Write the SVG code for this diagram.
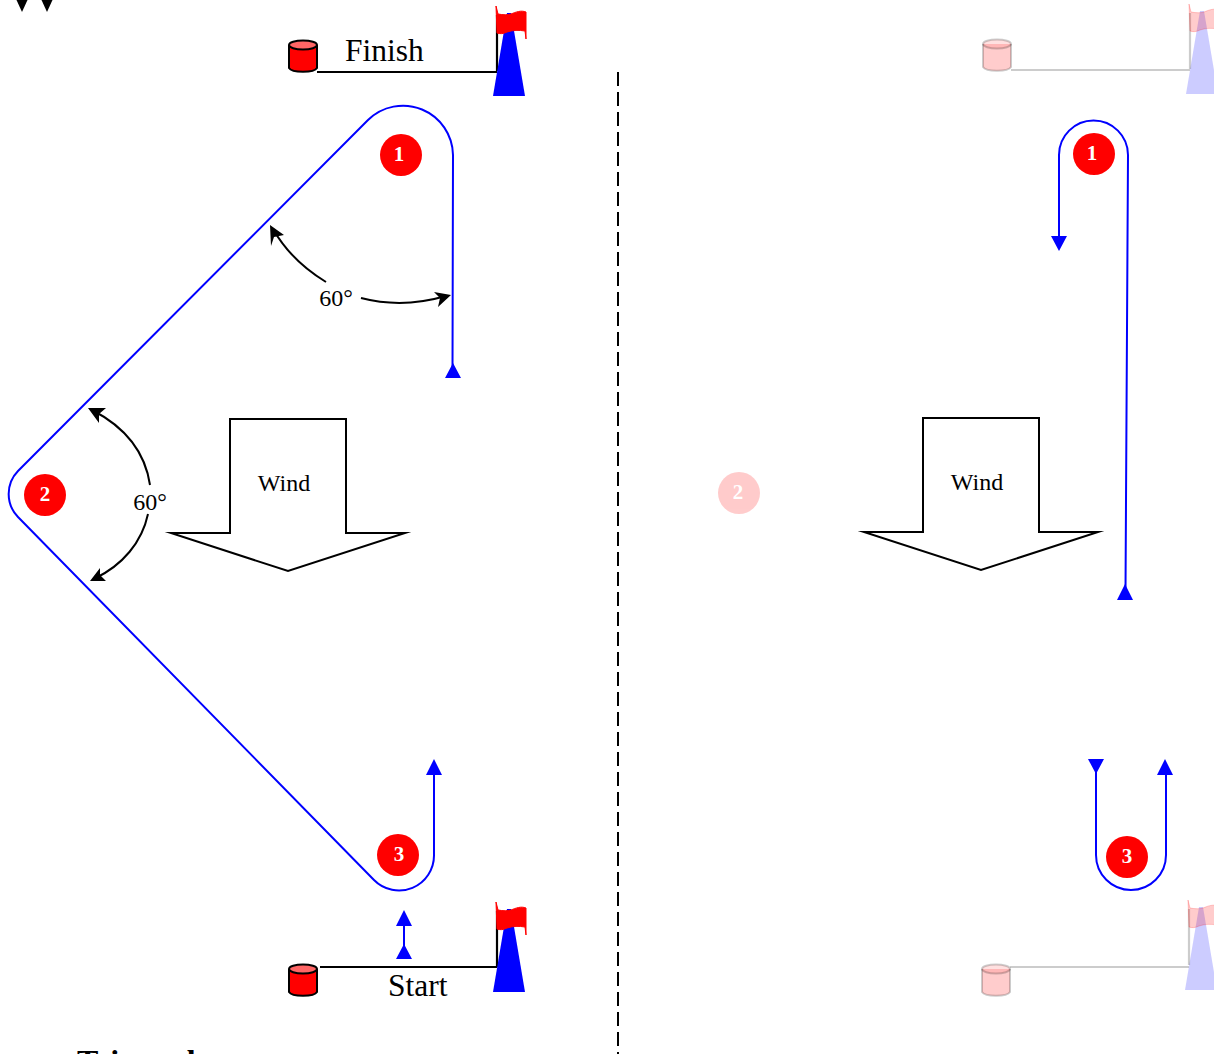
<svg xmlns="http://www.w3.org/2000/svg" width="1214" height="1054" viewBox="0 0 1214 1054">
<style>
text{font-family:"Liberation Serif","Times New Roman",serif;fill:#000}
.course{fill:none;stroke:#00f;stroke-width:2}
.head{fill:#00f;stroke:none}
.ang{fill:none;stroke:#000;stroke-width:2}
.angh{fill:#000;stroke:none}
.wind{fill:#fff;stroke:#000;stroke-width:2;stroke-miterlimit:20}
.mark{fill:#f00}
.num{fill:#fff;font-weight:bold;font-size:21px;text-anchor:middle}
.line{fill:none;stroke:#000;stroke-width:2.200}
.buoy{fill:#f00;stroke:#000;stroke-width:2}
.buoytop{fill:#ff6666;stroke:#000;stroke-width:2}
.boat{fill:#00f}
.flag{fill:#f00;stroke:#f00;stroke-width:1}
.lbl{font-size:31.500px}
.w{font-size:24px;text-anchor:middle}
.a60{font-size:24px;text-anchor:middle}
.f{fill-opacity:.2;stroke-opacity:.2}
</style>
<defs>
<path id="pole" class="line" d="M0 15V71"/>
<path id="boat" class="boat" d="M10 13L14 13L28 96L-4 96Z"/>
<path id="flag" class="flag" d="M-1 6L1 14C6 15 11 15 14 14C19 12 24 10 29 12L29 39L28 31C22 30 16 30 10 32C6 34 3 34 0 33Z"/>
<g id="buoyshape">
<path class="buoy" d="M0 5V28C3 33 25 33 28 28V5"/>
<ellipse class="buoytop" cx="14" cy="5" rx="14" ry="4.500"/>
</g>
</defs>

<g id="top-arrowheads">
<path d="M16.500 0H27.500L22 12Z" fill="#000"/>
<path d="M41.500 0H52.500L47 12Z" fill="#000"/>
</g>

<g id="connectors">
<path class="course" d="M452.500 368L453 155A50 50 0 0 0 368 120L18 471A33 33 0 0 0 18 517L374 880A35 35 0 0 0 434 855V772"/>
<path class="head" d="M445 378H461L453 363Z"/>
<path class="head" d="M426 775H442L434 759Z"/>
<path class="course" d="M404 925V946"/>
<path class="head" d="M396 926H412L404 910Z"/>
<path class="head" d="M396 959H412L404 944Z"/>
<path class="ang" d="M326 282C303 268 285 250 273 229"/>
<path class="angh" d="M270 225L284 235L274 237L271 246Z"/>
<path class="ang" d="M361 298C388 305 415 305 446 296"/>
<path class="angh" d="M451 295L438 307L440 298L434 292Z"/>
<path class="ang" d="M150 485C145 451 125 427 92 410"/>
<path class="angh" d="M88 408L106 408L99 414L99 423Z"/>
<path class="ang" d="M148 514C142 542 123 565 94 579"/>
<path class="angh" d="M90 581L100 568L100 575L106 581Z"/>
<path d="M618 72V1054" fill="none" stroke="#000" stroke-width="2" stroke-dasharray="14 6"/>
<path class="course" d="M1059 238V155A34.500 34.500 0 0 1 1128 155L1125.500 590"/>
<path class="head" d="M1051 236H1067L1059 251Z"/>
<path class="head" d="M1117 600H1133L1125 584Z"/>
<path class="course" d="M1096 770V855A35 35 0 0 0 1166 855V772"/>
<path class="head" d="M1088 759H1104L1096 774Z"/>
<path class="head" d="M1157 775H1173L1165 759Z"/>
</g>

<g id="wind-left">
<path class="wind" d="M230 419H346V533H405L288 571L171 533H230Z"/>
<text class="w" x="284" y="491">Wind</text>
</g>
<g id="wind-right">
<path class="wind" d="M923 418H1039V532H1098L981 570L864 532H923Z"/>
<text class="w" x="977" y="490">Wind</text>
</g>

<g id="angle-label-1"><text class="a60" x="336" y="306">60°</text></g>
<g id="angle-label-2"><text class="a60" x="150" y="510">60°</text></g>

<g id="mark-1"><circle class="mark" cx="401" cy="155" r="21"/><text class="num" x="399" y="161">1</text></g>
<g id="mark-2"><circle class="mark" cx="45" cy="495" r="21"/><text class="num" x="45" y="501">2</text></g>
<g id="mark-3"><circle class="mark" cx="398" cy="855" r="21"/><text class="num" x="399" y="861">3</text></g>
<g id="mark-1b"><circle class="mark" cx="1094" cy="154" r="21"/><text class="num" x="1092" y="160">1</text></g>
<g id="mark-2b" opacity="0.2"><circle class="mark" cx="739" cy="493" r="21"/><text class="num" x="738" y="499">2</text></g>
<g id="mark-3b"><circle class="mark" cx="1127" cy="857" r="21"/><text class="num" x="1127" y="863">3</text></g>

<g id="finish-left">
<path class="line" d="M317 72H497"/>
<use href="#buoyshape" x="289" y="40"/>
<use href="#pole" x="497" y="0"/>
<use href="#boat" x="497" y="0"/>
<use href="#flag" x="497" y="0"/>
<text class="lbl" x="345" y="61">Finish</text>
</g>
<g id="start-left">
<path class="line" d="M320 967H497"/>
<use href="#buoyshape" x="289" y="964"/>
<use href="#pole" x="497" y="896"/>
<use href="#boat" x="497" y="896"/>
<use href="#flag" x="497" y="896"/>
<text class="lbl" x="388" y="996">Start</text>
</g>
<g id="finish-right">
<path class="line" d="M1011 70H1190" opacity="0.2"/>
<use class="f" href="#buoyshape" x="983" y="39"/>
<use class="f" href="#pole" x="1190" y="-2"/>
<use class="f" href="#boat" x="1190" y="-2"/>
<use class="f" href="#flag" x="1190" y="-2"/>
</g>
<g id="start-right">
<path class="line" d="M1010 967H1189" opacity="0.2"/>
<use class="f" href="#buoyshape" x="982" y="964"/>
<use class="f" href="#pole" x="1189" y="894"/>
<use class="f" href="#boat" x="1189" y="894"/>
<use class="f" href="#flag" x="1189" y="894"/>
</g>

<g id="title"><text x="77" y="1072" font-size="32" font-weight="bold">Triangular</text></g>
</svg>
